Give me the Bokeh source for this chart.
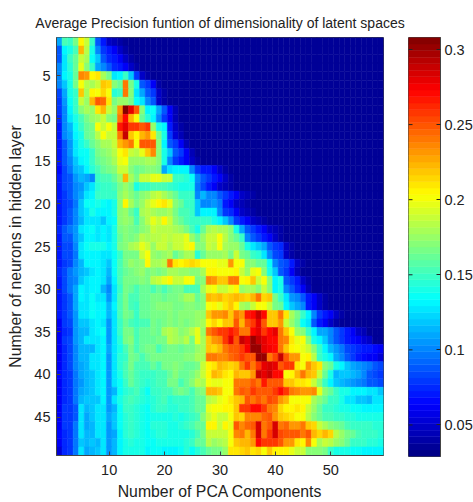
from bokeh.plotting import figure
from bokeh.embed import file_html
from bokeh.resources import INLINE
from bokeh.layouts import row
from bokeh.models import FixedTicker, NumeralTickFormatter, Range1d, ColumnDataSource
from bokeh.transform import linear_cmap
import numpy as np

title_text = "Average Precision funtion of dimensionality of latent spaces"
x_label = "Number of PCA Components"
y_label = "Number of neurons in hidden layer"
x_ticks = [10, 20, 30, 40, 50]
y_ticks = [5, 10, 15, 20, 25, 30, 35, 40, 45]
cb_ticks = [0.05, 0.1, 0.15, 0.2, 0.25, 0.3]
c_low, c_high = 0.029, 0.308
N_COLS = 59
BG = 34

# values, in thousandths; one list per hidden-layer size
r01 = [110,155,150,165,205,190,150,90,70,50,45,38]
r02 = [90,130,140,155,225,185,140,100,80,70,60,50,38]
r03 = [90,125,150,160,190,180,135,120,90,75,70,60,50,40]
r04 = [100,125,145,160,195,170,150,110,100,90,75,70,60,50,40]
r05 = [100,130,140,160,235,230,205,210,180,165,125,130,150,120,80,50,40]
r06 = [100,120,140,165,200,185,180,190,220,215,170,160,240,165,140,90,80,60,40]
r07 = [85,110,140,150,220,180,205,200,215,200,145,150,240,170,125,110,90,80,50,38]
r08 = [80,105,135,150,190,175,225,250,245,210,165,175,175,165,135,125,100,90,50,40]
r09 = [80,100,130,150,170,180,175,210,225,190,175,230,310,280,250,170,130,135,110,90,60,45]
r10 = [75,100,125,140,155,165,175,180,190,170,165,240,270,225,200,160,145,130,100,80,60,45]
r11 = [70,100,115,135,150,160,165,200,190,200,190,265,280,260,260,250,260,175,140,130,70,50,40]
r12 = [70,100,110,130,140,160,165,185,200,190,190,240,290,220,205,225,230,210,165,140,80,55,45]
r13 = [70,90,105,125,140,150,160,170,180,180,190,225,230,240,200,250,250,250,170,130,90,80,60,45]
r14 = [70,90,105,125,135,135,150,165,170,175,185,200,210,190,185,195,220,235,170,140,120,90,80,60,45]
r15 = [70,90,100,120,130,135,150,160,165,170,180,195,200,175,175,175,180,180,170,140,100,80,70,60,50,40]
r16 = [65,85,95,115,120,130,145,155,160,165,170,190,190,170,160,165,170,170,165,110,125,130,130,130,100,80,70,70,60,50,40]
r17 = [70,85,90,105,115,110,100,150,155,155,160,175,225,180,165,190,190,195,195,190,190,150,150,145,135,100,90,80,70,60,50,40]
r18 = [70,85,90,100,105,120,125,145,150,150,155,165,175,165,140,150,150,155,155,155,150,145,140,140,140,95,85,70,60,50,45,38]
r19 = [70,80,90,100,110,125,130,150,150,150,150,170,180,170,160,170,175,185,190,180,170,160,150,150,150,100,115,100,100,90,80,70,60,50,45,38]
r20 = [70,80,85,95,120,135,135,140,135,130,140,170,205,180,165,175,190,195,205,210,195,170,160,150,150,120,100,100,105,95,70,60,50,45,38]
r21 = [70,80,90,100,120,125,140,130,130,130,140,170,175,160,150,180,185,180,175,175,180,165,155,155,150,120,130,130,130,100,80,75,60,50,45,38]
r22 = [70,80,90,100,115,125,125,125,120,130,135,170,175,170,155,170,185,195,190,205,190,170,160,155,150,150,150,150,140,130,120,100,80,70,60,50,45,38]
r23 = [75,90,95,105,125,130,135,125,130,125,140,165,170,165,160,170,175,190,185,185,185,180,175,165,155,140,160,180,185,180,180,170,140,110,90,80,70,60,50,45,38]
r24 = [70,90,90,105,120,130,130,125,130,125,140,160,170,165,170,185,180,185,185,190,185,190,190,195,175,160,175,190,190,200,185,170,160,150,100,90,80,70,60,50,40]
r25 = [70,85,85,100,125,135,140,140,140,130,140,165,170,180,185,195,190,175,190,190,180,190,190,195,205,170,170,190,185,200,180,175,175,160,140,125,120,110,90,80,75,50,40]
r26 = [70,85,85,95,125,130,130,130,125,125,135,150,165,165,165,190,200,175,170,175,180,160,170,180,180,145,160,175,175,175,180,165,190,165,160,150,145,125,100,85,80,50,40]
r27 = [70,80,85,100,115,130,130,130,125,120,135,155,165,175,170,175,205,180,180,185,240,210,205,210,215,210,200,200,200,195,195,230,200,200,170,170,160,160,135,100,90,85,70,50,40]
r28 = [75,85,95,105,115,120,125,130,125,115,135,155,160,165,170,175,165,170,165,170,180,180,175,175,170,170,180,205,205,200,200,200,205,190,175,195,200,170,140,120,90,80,60,45]
r29 = [70,85,95,100,120,125,130,130,125,110,130,155,165,165,165,170,165,185,190,195,205,190,190,200,200,165,170,235,230,220,220,240,240,200,205,220,190,200,170,130,140,90,80,70,50,40]
r30 = [70,85,95,110,130,125,130,130,115,100,125,150,165,160,155,160,160,155,160,155,160,165,165,155,155,155,180,195,200,190,190,195,205,175,180,180,170,190,170,130,140,100,90,75,60,45]
r31 = [70,80,90,110,130,125,135,125,125,105,125,155,165,155,155,160,160,165,165,160,165,165,170,180,180,160,170,225,220,225,215,220,225,220,215,225,240,215,220,165,150,125,105,100,90,70,60,50,40]
r32 = [70,80,90,110,125,125,135,130,130,115,130,155,165,155,150,160,160,165,170,170,170,165,165,170,170,165,170,200,205,195,210,220,205,180,175,190,200,200,190,165,160,130,120,110,100,70,60,50,40]
r33 = [70,80,90,105,125,125,135,130,130,115,125,155,165,160,150,160,160,165,165,165,170,165,170,170,170,175,175,220,230,230,235,220,240,230,265,270,290,270,220,220,240,210,180,165,150,130,100,80,70,60,50,40]
r34 = [60,80,85,105,120,120,125,130,125,105,125,150,160,155,150,155,155,165,160,165,170,165,170,165,170,175,180,205,215,205,220,220,250,225,250,260,280,250,220,220,230,190,175,160,135,125,90,70,60,50,40]
r35 = [60,75,80,105,115,115,125,130,135,105,125,150,165,165,155,160,160,165,160,180,185,180,170,175,185,195,175,240,250,260,260,265,260,240,240,270,280,260,270,280,240,220,200,175,170,150,130,110,110,100,90,80,70,60,50,45]
r36 = [60,80,85,105,115,125,125,125,130,105,125,145,165,170,155,160,160,160,165,165,185,180,175,185,165,195,180,220,230,235,260,280,250,290,280,300,290,280,270,270,240,235,210,195,200,170,140,130,120,100,90,80,70,65,60,55,50]
r37 = [60,75,85,100,115,115,115,125,130,110,125,140,155,165,155,160,165,165,155,160,165,165,160,165,165,175,180,220,215,225,240,250,250,260,275,300,300,280,275,270,240,220,205,200,195,190,170,150,130,115,105,95,85,80,75,70,70,65,60]
r38 = [60,75,85,100,115,115,125,125,130,105,125,145,150,165,160,155,160,165,165,165,165,165,165,170,170,180,180,240,240,235,235,245,250,260,250,250,300,300,240,255,290,250,230,230,200,205,185,150,140,130,110,100,90,80,70,65,60,60,55]
r39 = [60,75,85,100,110,115,125,125,130,105,125,145,155,165,155,155,155,160,155,165,165,170,165,160,160,165,190,205,210,225,220,215,220,240,260,240,260,280,285,280,250,260,260,210,200,230,220,210,170,160,140,130,120,110,105,100,95,90,85]
r40 = [65,75,80,95,110,115,120,125,130,105,125,140,155,160,155,150,150,150,155,155,160,170,160,160,165,175,190,205,225,220,210,205,225,220,220,230,290,280,290,270,270,200,205,225,240,225,220,190,160,140,115,120,120,115,110,100,90,85,80]
r41 = [60,75,80,95,105,115,120,125,130,105,125,135,150,160,155,150,145,150,155,155,165,165,155,160,170,185,180,200,195,195,200,200,240,240,240,250,240,265,250,250,250,220,220,210,210,205,190,170,150,130,120,115,110,105,100,95,90,90,85]
r42 = [60,75,80,95,110,115,120,125,130,105,115,135,145,150,155,145,135,150,150,155,155,160,165,160,155,165,170,225,225,220,200,200,240,250,245,260,250,250,250,260,270,260,240,235,230,230,235,195,170,160,150,140,140,130,130,130,125,125,120]
r43 = [60,75,80,95,115,120,120,120,130,105,125,140,150,155,150,145,140,145,150,155,145,150,150,150,155,160,160,185,190,195,200,210,220,225,250,240,250,240,255,250,230,225,200,200,200,200,180,170,160,150,150,140,125,125,120,120,115,125,125]
r44 = [60,80,80,90,125,115,120,125,125,105,115,135,150,150,145,140,135,145,150,150,145,145,150,150,155,160,160,195,200,200,205,205,220,260,260,270,270,260,240,235,215,205,205,210,205,190,175,160,150,150,145,140,140,135,135,130,130,130,130]
r45 = [60,80,80,90,125,110,120,125,125,110,120,135,145,150,145,140,135,140,140,140,140,145,140,145,150,155,170,190,195,190,190,200,220,215,235,235,235,245,250,230,220,215,210,200,200,185,170,160,155,155,150,150,145,145,140,140,140,140,140]
r46 = [60,80,80,95,125,110,115,125,125,105,120,135,145,150,145,140,135,145,145,145,140,140,145,150,155,160,160,205,205,190,205,195,250,235,245,250,285,240,250,285,240,245,230,230,240,220,215,190,180,170,165,160,155,150,150,150,150,145,145]
r47 = [65,75,80,95,125,115,115,125,125,105,110,130,145,150,145,140,135,140,145,145,140,140,140,140,145,155,165,190,190,190,190,200,235,240,225,240,285,240,260,285,255,250,250,250,240,250,225,215,225,215,185,175,165,160,155,150,150,150,145]
r48 = [60,75,80,95,120,115,120,115,125,105,115,130,140,145,140,140,135,135,140,140,140,140,140,145,150,160,160,185,175,180,185,200,220,225,225,230,270,260,260,260,250,230,230,210,205,235,200,180,190,185,175,170,160,150,150,150,145,145,140]
r49 = [55,75,80,95,125,110,115,120,125,105,115,130,140,140,140,140,130,135,135,130,130,130,135,145,135,145,155,160,165,165,175,210,210,215,220,210,215,200,220,205,205,205,195,190,190,170,170,170,165,150,140,140,140,135,135,130,130,130,130]

rows = [r01,r02,r03,r04,r05,r06,r07,r08,r09,r10,r11,r12,r13,r14,r15,r16,r17,r18,r19,r20,
        r21,r22,r23,r24,r25,r26,r27,r28,r29,r30,r31,r32,r33,r34,r35,r36,r37,r38,r39,r40,
        r41,r42,r43,r44,r45,r46,r47,r48,r49]
# the dark upper-right background is one flat value
grid = np.array([(r + [BG] * N_COLS)[:N_COLS] for r in rows], dtype=float) / 1000.0
n_rows = grid.shape[0]


def jet(n):
    out = []
    for i in range(n):
        t = (i + 0.5) / n
        r = np.clip(min(4 * t - 1.5, -4 * t + 4.5), 0, 1)
        g = np.clip(min(4 * t - 0.5, -4 * t + 3.5), 0, 1)
        b = np.clip(min(4 * t + 0.5, -4 * t + 2.5), 0, 1)
        out.append("#%02x%02x%02x" % (int(r * 255), int(g * 255), int(b * 255)))
    return out


palette = jet(64)
FONT = "Liberation Sans"
INK = "#222222"
EDGE = "#444444"

yy, xx = np.mgrid[1:n_rows + 1, 1:N_COLS + 1]
src = ColumnDataSource(dict(x=xx.ravel(), y=yy.ravel(), v=grid.ravel()))
cmap = linear_cmap("v", palette, c_low, c_high)

p = figure(
    output_backend="svg", toolbar_location=None, tools="",
    width=408, height=502, frame_width=327, frame_height=418,
    x_range=Range1d(0.5, N_COLS + 0.5), y_range=Range1d(n_rows + 0.5, 0.5),
    min_border_left=56, min_border_top=37, min_border_bottom=47, min_border_right=25,
    title=title_text, x_axis_label=x_label, y_axis_label=y_label,
)
p.rect(x="x", y="y", width=1, height=1, source=src, fill_color=cmap, line_color=cmap, line_width=0.5)

p.grid.visible = False
p.title.align = "center"
p.title.text_font = FONT
p.title.text_font_size = "14px"
p.title.text_font_style = "normal"
p.title.text_color = INK
p.title.standoff = 14

for ax, ticks in ((p.xaxis[0], x_ticks), (p.yaxis[0], y_ticks)):
    ax.ticker = FixedTicker(ticks=ticks)
    ax.major_tick_in = 4
    ax.major_tick_out = 0
    ax.minor_tick_line_color = None
    ax.axis_line_color = EDGE
    ax.major_tick_line_color = EDGE
    ax.major_label_text_font = FONT
    ax.major_label_text_font_size = "14.5px"
    ax.major_label_text_color = INK
    ax.axis_label_text_font = FONT
    ax.axis_label_text_font_size = "15.8px"
    ax.axis_label_text_font_style = "normal"
    ax.axis_label_text_color = INK
p.xaxis[0].major_label_standoff = 9
p.xaxis[0].axis_label_standoff = 5
p.yaxis[0].major_label_standoff = 6
p.yaxis[0].axis_label_standoff = 7
p.outline_line_color = EDGE

# colour bar: one band for each palette entry
edges = np.linspace(c_low, c_high, len(palette) + 1)
q = figure(
    output_backend="svg", toolbar_location=None, tools="",
    width=65, height=502, frame_width=32, frame_height=419,
    x_range=Range1d(0, 1), y_range=Range1d(c_low, c_high),
    x_axis_location=None, y_axis_location="right",
    min_border_left=0, min_border_top=37, min_border_bottom=46, min_border_right=33,
)
q.quad(left=0, right=1, bottom=edges[:-1], top=edges[1:], fill_color=palette, line_color=palette, line_width=0.5)
# the ticks of the bar point inwards from both of its sides
tick_frac = 4 / 32
q.segment(x0=0, x1=tick_frac, y0=cb_ticks, y1=cb_ticks, line_color=INK, line_width=1)
q.grid.visible = False
q.outline_line_color = EDGE
ra = q.yaxis[0]
ra.ticker = FixedTicker(ticks=cb_ticks)
ra.formatter = NumeralTickFormatter(format="0.[00]")
ra.major_tick_in = 4
ra.major_tick_out = 0
ra.minor_tick_line_color = None
ra.axis_line_color = EDGE
ra.major_tick_line_color = INK
ra.major_label_text_font = FONT
ra.major_label_text_font_size = "14.5px"
ra.major_label_text_color = INK
ra.major_label_standoff = 4

layout = row(p, q, spacing=0)
open("out.html", "w").write(file_html(layout, INLINE))
